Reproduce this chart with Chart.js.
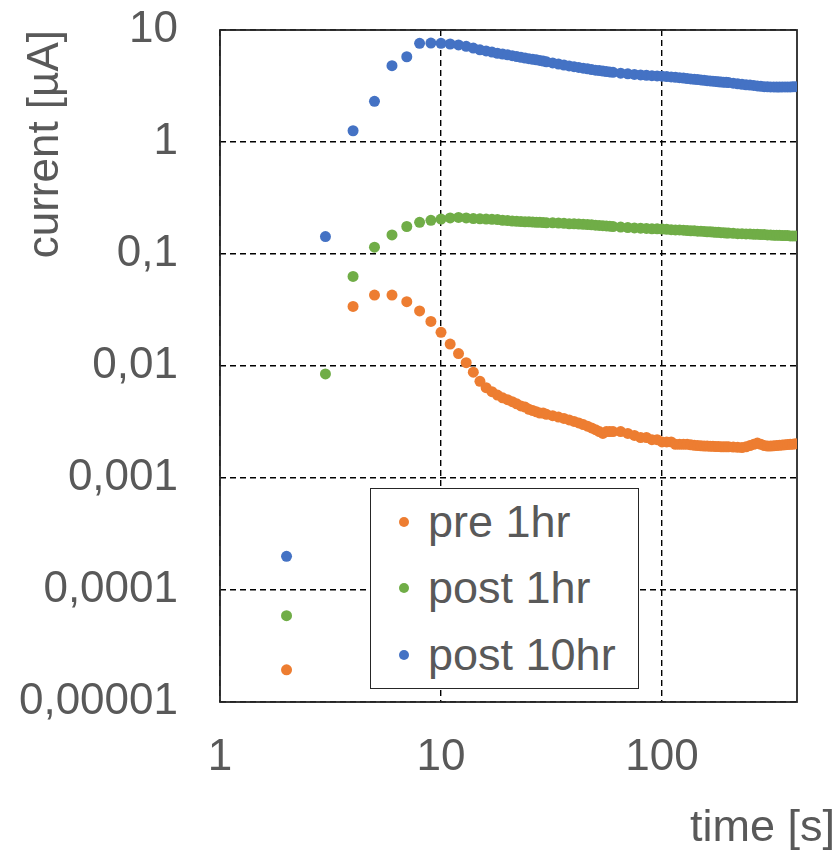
<!DOCTYPE html>
<html>
<head>
<meta charset="utf-8">
<script src="https://cdn.jsdelivr.net/npm/chart.js@4/dist/chart.umd.min.js"></script>
<style>
  html, body { margin: 0; padding: 0; background: #fff; }
  #wrap { position: relative; width: 840px; height: 851px; }
  #chart { position: absolute; left: 0; top: 0; }
  #legend {
    position: absolute; left: 370px; top: 488px; width: 267px; height: 199px;
    border: 1.5px solid #262626; background: #fff;
    font-family: "Liberation Sans", Arial, sans-serif; font-size: 45px; color: #595959;
  }
  #legend .row { display: flex; align-items: center; height: 66.3px; }
  #legend .dot { width: 10px; height: 10px; border-radius: 50%; margin-left: 28px; margin-right: 19px; }
</style>
</head>
<body>
<div id="wrap">
  <canvas id="chart" width="840" height="851"></canvas>
  <div id="legend"></div>
</div>
<script>
/* current vs time, log-log */

const times = [
  2, 3, 4, 5, 6, 7, 8, 9, 10, 11, 12, 13, 14, 15, 16, 17, 18, 19, 20, 21, 22, 23, 24, 25, 26, 27, 28, 29, 30,
  32, 34, 36, 38, 40, 42, 44, 46, 48, 50, 52, 54, 56, 58, 60,
  65, 70, 75, 80, 85, 90, 95, 100, 105, 110, 115, 120, 125, 130, 135, 140, 145, 150, 155, 160, 165, 170, 175, 180, 185, 190, 195, 200,
  210, 220, 230, 240, 250, 260, 270, 280, 290, 300, 310, 320, 330, 340, 350, 360, 370, 380, 390, 400,
];

const pre1hr = [
  1.94e-5, null, 0.034, 0.043, 0.043, 0.0375, 0.031, 0.025, 0.02, 0.0157, 0.0129, 0.0107, 0.0088, 0.0073, 0.0064, 0.0059, 0.0055, 0.0052, 0.005, 0.0048, 0.0046, 0.0044, 0.0043, 0.0041, 0.004, 0.0039, 0.0038, 0.0038, 0.0037,
  0.0036, 0.0035, 0.0034, 0.0033, 0.0032, 0.0031, 0.003, 0.0029, 0.0028, 0.0027, 0.0026, 0.0025, 0.0026, 0.0026, 0.0026,
  0.0026, 0.0025, 0.0024, 0.0023, 0.0023, 0.0022, 0.0022, 0.0021, 0.0021, 0.0021, 0.002, 0.002, 0.002, 0.002, 0.00198, 0.00196, 0.00195, 0.00194, 0.00193, 0.00193, 0.00192, 0.00192, 0.00191, 0.00191, 0.0019, 0.0019, 0.0019, 0.0019,
  0.00189, 0.00188, 0.00187, 0.00190, 0.00195, 0.00200, 0.00205, 0.00200, 0.00195, 0.00193, 0.00193, 0.00194, 0.00195, 0.00196, 0.00197, 0.00198, 0.00199, 0.002, 0.002, 0.00202,
];

const post1hr = [
  5.9e-5, 0.0085, 0.063, 0.115, 0.148, 0.176, 0.192, 0.2, 0.205, 0.21, 0.212, 0.21, 0.207, 0.206, 0.205, 0.204, 0.203, 0.2, 0.199, 0.197, 0.196, 0.195, 0.194, 0.194, 0.193, 0.192, 0.192, 0.191, 0.19,
  0.19, 0.189, 0.188, 0.186, 0.186, 0.185, 0.184, 0.183, 0.182, 0.181, 0.18, 0.179, 0.178, 0.177, 0.176,
  0.174, 0.172, 0.171, 0.17, 0.169, 0.168, 0.168, 0.167, 0.166, 0.165, 0.164, 0.164, 0.163, 0.162, 0.161, 0.161, 0.16, 0.16, 0.159, 0.158, 0.158, 0.157, 0.156, 0.156, 0.155, 0.155, 0.154, 0.154,
  0.153, 0.152, 0.152, 0.151, 0.151, 0.15, 0.15, 0.149, 0.149, 0.148, 0.148, 0.147, 0.147, 0.147, 0.146, 0.146, 0.146, 0.145, 0.145, 0.145,
];

const post10hr = [
  2.0e-4, 0.143, 1.26, 2.31, 4.8, 5.77, 7.6, 7.65, 7.6, 7.5, 7.35, 7.15, 6.9, 6.65, 6.5, 6.35, 6.2, 6.1, 6.0, 5.9, 5.8, 5.7, 5.62, 5.55, 5.48, 5.42, 5.35, 5.28, 5.2,
  5.08, 4.97, 4.87, 4.78, 4.7, 4.63, 4.56, 4.5, 4.44, 4.38, 4.34, 4.3, 4.26, 4.22, 4.19,
  4.12, 4.06, 4.01, 3.97, 3.94, 3.91, 3.89, 3.87, 3.84, 3.81, 3.78, 3.75, 3.72, 3.69, 3.66, 3.63, 3.61, 3.58, 3.56, 3.53, 3.51, 3.49, 3.47, 3.45, 3.43, 3.42, 3.41, 3.39,
  3.35, 3.31, 3.27, 3.24, 3.22, 3.2, 3.17, 3.14, 3.12, 3.11, 3.1, 3.1, 3.09, 3.09, 3.1, 3.1, 3.1, 3.1, 3.11, 3.12,
];

const seriesLabels = ["pre 1hr", "post 1hr", "post 10hr"];
const seriesColors = ["#ED7D31", "#70AD47", "#4472C4"];

const xTickValues = [1, 10, 100];
const xTickLabels = ["1", "10", "100"];
const yTickValues = [10, 1, 0.1, 0.01, 0.001, 0.0001, 0.00001];
const yTickLabels = ["10", "1", "0,1", "0,01", "0,001", "0,0001", "0,00001"];

const textGray = "#595959";
Chart.defaults.font.family = '"Liberation Sans", Arial, sans-serif';

const toPoints = vals => times.map((t, i) => ({ x: t, y: vals[i] }));

// solid frame round the plot area
const frame = {
  id: "frame",
  beforeDatasetsDraw(chart) {
    const { ctx, chartArea: a } = chart;
    ctx.save();
    ctx.strokeStyle = "#262626";
    ctx.lineWidth = 1.8;
    ctx.strokeRect(a.left, a.top, a.right - a.left, a.bottom - a.top);
    ctx.restore();
  },
};

const gridStyle = { color: "#000", lineWidth: 1.4, drawTicks: false };
const borderStyle = { display: false, dash: [6, 4] };
const noOverflow = axis => { axis.paddingTop = 0; axis.paddingBottom = 0; axis.paddingLeft = 0; axis.paddingRight = 0; };

const chart = new Chart(document.getElementById("chart"), {
  type: "scatter",
  data: {
    datasets: [pre1hr, post1hr, post10hr].map((vals, i) => ({
      label: seriesLabels[i],
      data: toPoints(vals),
      backgroundColor: seriesColors[i],
      borderWidth: 0,
      pointRadius: 5.5,
      pointHoverRadius: 5.5,
    })),
  },
  options: {
    responsive: false,
    animation: false,
    layout: { padding: { top: 30, right: 5, bottom: 0, left: 0 } },
    plugins: {
      legend: { display: false },
      tooltip: { enabled: false },
      title: {
        display: true, text: "time [s]", position: "bottom", align: "end",
        color: textGray, font: { size: 45, weight: "normal", lineHeight: 1 }, padding: { top: 16, bottom: 0 },
      },
    },
    scales: {
      x: {
        type: "logarithmic", min: 1, max: 408,
        grid: gridStyle, border: borderStyle,
        afterBuildTicks: axis => { axis.ticks = xTickValues.map(v => ({ value: v })); },
        afterFit: axis => { axis.height = 88; noOverflow(axis); },
        ticks: {
          color: textGray, font: { size: 44 }, padding: 29, autoSkip: false, maxRotation: 0,
          callback: v => xTickLabels[xTickValues.indexOf(v)] ?? "",
        },
      },
      y: {
        type: "logarithmic", min: 0.00001, max: 10,
        grid: gridStyle, border: borderStyle,
        afterBuildTicks: axis => { axis.ticks = yTickValues.map(v => ({ value: v })); },
        afterFit: axis => { axis.width = 220; noOverflow(axis); },
        ticks: {
          color: textGray, font: { size: 44 }, padding: 42, autoSkip: false,
          callback: v => yTickLabels[yTickValues.indexOf(v)] ?? "",
        },
        title: {
          display: true, text: "current [µA]", align: "end",
          color: textGray, font: { size: 44 }, padding: { top: 19, bottom: 0 },
        },
      },
      yRight: {
        type: "linear", position: "right",
        grid: { display: false }, border: { display: false }, ticks: { display: false },
        afterFit: axis => { axis.width = 38; noOverflow(axis); },
      },
    },
  },
  plugins: [frame],
});

// legend box inside the plot
const legendEl = document.getElementById("legend");
legendEl.innerHTML = chart.data.datasets.map(ds => `
  <div class="row"><span class="dot" style="background:${ds.backgroundColor}"></span><span>${ds.label}</span></div>
`).join("");
</script>
</body>
</html>
